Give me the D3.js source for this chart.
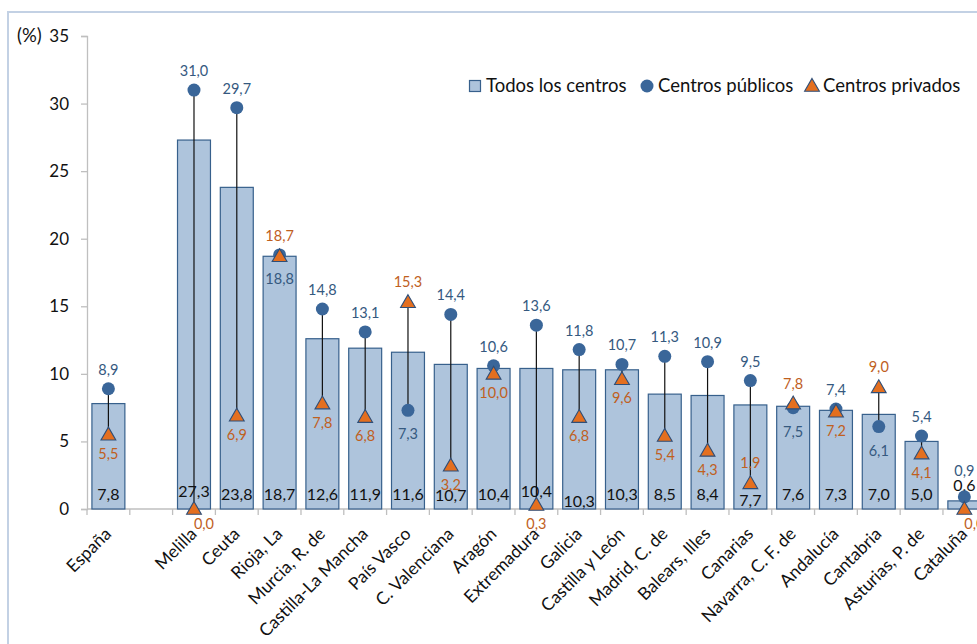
<!DOCTYPE html>
<html><head><meta charset="utf-8">
<script src="https://cdn.jsdelivr.net/npm/d3@7/dist/d3.min.js"></script>
<style>
html,body{margin:0;padding:0;background:#fff;overflow:hidden;}
svg{display:block;font-family:Lato,"Open Sans",sans-serif;}
</style></head>
<body>
<svg id="chart" width="977" height="644"></svg>
<script>
const categories = ["España","","Melilla","Ceuta","Rioja, La","Murcia, R. de","Castilla-La Mancha","País Vasco","C. Valenciana","Aragón","Extremadura","Galicia","Castilla y León","Madrid, C. de","Balears, Illes","Canarias","Navarra, C. F. de","Andalucía","Cantabria","Asturias, P. de","Cataluña"];
const todos    = [7.8,null,27.3,23.8,18.7,12.6,11.9,11.6,10.7,10.4,10.4,10.3,10.3,8.5,8.4,7.7,7.6,7.3,7.0,5.0,0.6];
const publicos = [8.9,null,31.0,29.7,18.8,14.8,13.1,7.3,14.4,10.6,13.6,11.8,10.7,11.3,10.9,9.5,7.5,7.4,6.1,5.4,0.9];
const privados = [5.5,null,0.0,6.9,18.7,7.8,6.8,15.3,3.2,10.0,0.3,6.8,9.6,5.4,4.3,1.9,7.8,7.2,9.0,4.1,0.0];
const yTicks = [0,5,10,15,20,25,30,35];
const seriesNames = ["Todos los centros","Centros públicos","Centros privados"];

// styling / placement config (not data)
const C = {barFill:"#AEC4DC", barStroke:"#37608C", pub:"#3A6699", priv:"#E46F1F", triStroke:"#2E4E78",
           pubText:"#35597F", privText:"#C0601E", axis:"#BFBFBF", frame:"#C3D1E4"};
const privLabelOverride = {"Rioja, La":"above","Canarias":"above","Melilla":"right","Cataluña":"right"};
const pubLabelOverride = {"Rioja, La":"below"};
const pubLabelExtraDy = {"Cataluña":-7};
const totalLabelDy = {"Melilla":-3,"Extremadura":-3,"Galicia":7,"Canarias":6,"C. Valenciana":1};

const fmt = v => d3.format(".1f")(v).replace(".", ",");
const svg = d3.select("#chart");

// frame
svg.append("rect").attr("x",8).attr("y",12).attr("width",1100).attr("height",800)
  .attr("fill","none").attr("stroke",C.frame).attr("stroke-width",2);

const mLeft = 87, mRight = 985.75, mTop = 36, mBottom = 509;
const x = d3.scaleBand().domain(d3.range(categories.length)).range([mLeft,mRight]).paddingInner(0.23).paddingOuter(0.115);
const xs = d3.scaleBand().domain(d3.range(categories.length)).range([mLeft,mRight]);
const y = d3.scaleLinear().domain([0,35]).range([mBottom,mTop]);
const cx = i => xs(i) + xs.bandwidth()/2;

// y axis
const yAxis = svg.append("g").attr("transform",`translate(${mLeft},0)`)
  .call(d3.axisLeft(y).tickValues(yTicks).tickSize(6).tickPadding(12).tickFormat(d=>d));
yAxis.select(".domain").attr("stroke",C.axis).attr("stroke-width",1.3);
yAxis.selectAll(".tick line").attr("stroke",C.axis).attr("stroke-width",1.3);
yAxis.selectAll("text").attr("font-size",17).attr("fill","#111").attr("font-family","Lato");
svg.append("text").attr("x",17).attr("y",42).attr("font-size",18.5).attr("fill","#111").text("(%)");

// x axis
const xAxisG = svg.append("g").attr("transform",`translate(0,${mBottom})`);
xAxisG.append("line").attr("x1",mLeft).attr("x2",mRight).attr("stroke",C.axis).attr("stroke-width",1.3);
xAxisG.selectAll("line.tk").data(d3.range(categories.length+1)).join("line").attr("class","tk")
  .attr("x1",i=>mLeft+i*xs.step()).attr("x2",i=>mLeft+i*xs.step()).attr("y1",0).attr("y2",6)
  .attr("stroke",C.axis).attr("stroke-width",1.3);
xAxisG.selectAll("text.cat").data(categories).join("text").attr("class","cat")
  .attr("text-anchor","end").attr("font-size",17.5).attr("fill","#111")
  .attr("transform",(d,i)=>`translate(${cx(i)+4},${26}) rotate(-45)`)
  .text(d=>d);

const idx = d3.range(categories.length).filter(i=>todos[i]!==null);

// bars
svg.append("g").selectAll("rect").data(idx).join("rect")
  .attr("x",i=>x(i)).attr("width",x.bandwidth())
  .attr("y",i=>y(todos[i])).attr("height",i=>y(0)-y(todos[i]))
  .attr("fill",C.barFill).attr("stroke",C.barStroke).attr("stroke-width",1.2);

// total labels
svg.append("g").selectAll("text").data(idx).join("text")
  .attr("x",i=>cx(i)).attr("y",i=>{
    const c=categories[i]; if(c==="Cataluña") return y(todos[i])-10;
    return 500+(totalLabelDy[c]||0);})
  .attr("text-anchor","middle").attr("font-size",16).attr("fill","#111")
  .text(i=>fmt(todos[i]));

// connector lines
svg.append("g").selectAll("line").data(idx).join("line")
  .attr("x1",i=>cx(i)).attr("x2",i=>cx(i)).attr("y1",i=>y(publicos[i])).attr("y2",i=>y(privados[i]))
  .attr("stroke","#111").attr("stroke-width",1.2);

// circles
svg.append("g").selectAll("circle").data(idx).join("circle")
  .attr("cx",i=>cx(i)).attr("cy",i=>y(publicos[i])).attr("r",6.5).attr("fill",C.pub);

// triangles
const tri = d3.symbol().type(d3.symbolTriangle).size(95);
svg.append("g").selectAll("path").data(idx).join("path")
  .attr("d",tri).attr("transform",i=>`translate(${cx(i)},${y(privados[i])+1})`)
  .attr("fill",C.priv).attr("stroke",C.triStroke).attr("stroke-width",1.1);

// public labels
svg.append("g").selectAll("text").data(idx).join("text")
  .attr("x",i=>cx(i))
  .attr("y",i=>{
    const c=categories[i];
    let pos = pubLabelOverride[c] || (publicos[i]>=privados[i] ? "above":"below");
    return (pos==="above" ? y(publicos[i])-14 : y(publicos[i])+29) + (pubLabelExtraDy[c]||0);})
  .attr("text-anchor","middle").attr("font-size",14.5).attr("fill",C.pubText)
  .text(i=>fmt(publicos[i]));

// private labels
svg.append("g").selectAll("text").data(idx).join("text")
  .attr("x",i=>{const c=categories[i]; return privLabelOverride[c]==="right"? cx(i)+10 : cx(i);})
  .attr("y",i=>{
    const c=categories[i];
    let pos = privLabelOverride[c] || (privados[i]>publicos[i] ? "above":"below");
    if(pos==="right") return y(privados[i])+20;
    return pos==="above" ? y(privados[i])-15 : y(privados[i])+24;})
  .attr("text-anchor","middle").attr("font-size",14.5).attr("fill",C.privText)
  .text(i=>fmt(privados[i]));

// legend
const lg = svg.append("g").attr("font-size",18.5).attr("fill","#111");
lg.append("rect").attr("x",469.5).attr("y",80.5).attr("width",11).attr("height",11)
  .attr("fill",C.barFill).attr("stroke",C.barStroke).attr("stroke-width",1.2);
lg.append("text").attr("x",486).attr("y",92).text(seriesNames[0]);
lg.append("circle").attr("cx",647).attr("cy",86).attr("r",6.5).attr("fill",C.pub);
lg.append("text").attr("x",658).attr("y",92).text(seriesNames[1]);
lg.append("path").attr("d",tri).attr("transform","translate(812,87)")
  .attr("fill",C.priv).attr("stroke",C.triStroke).attr("stroke-width",1.1);
lg.append("text").attr("x",823).attr("y",92).text(seriesNames[2]);
</script>
</body></html>
